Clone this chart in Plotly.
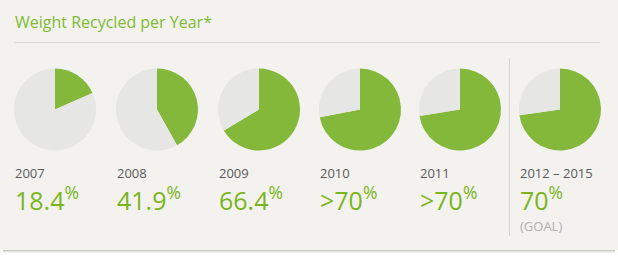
import plotly.graph_objects as go

# ---- data ----
years = ["2007", "2008", "2009", "2010", "2011", "2012 – 2015"]
pie_values = [18.4, 41.9, 66.4, 72.0, 72.5, 72.8]
value_labels = ["18.4", "41.9", "66.4", ">70", ">70", "70"]
title_text = "Weight Recycled per Year*"
goal_text = "(GOAL)"

# ---- layout constants ----
W, H = 618, 258
col_cx = [55, 157, 259, 360, 460, 560]
pie_cy = 109.5
pie_r = 41
GREEN = "#84b83a"
GREY_PIE = "#e6e6e4"
TEXT_GREEN = "#7ab51d"
TITLE_GREEN = "#80bb35"
CARD = "#f3f2ee"
FONT = "Open Sans"


def fx(px):
    return px / W


def fy(py):
    return 1 - py / H


fig = go.Figure()

for i, v in enumerate(pie_values):
    cx = col_cx[i]
    fig.add_trace(go.Pie(
        values=[v, 100 - v],
        labels=["Recycled", "Other"],
        marker=dict(colors=[GREEN, GREY_PIE], line=dict(width=0)),
        sort=False,
        direction="clockwise",
        rotation=0,
        textinfo="none",
        hoverinfo="skip",
        showlegend=False,
        domain=dict(x=[fx(cx - pie_r), fx(cx + pie_r)],
                    y=[fy(pie_cy + pie_r), fy(pie_cy - pie_r)]),
    ))

shapes = []
# card shadow layers (below the card's bottom edge)
for off, alpha in [(3, 0.05), (2, 0.07), (1, 0.10)]:
    shapes.append(dict(type="rect", xref="paper", yref="paper", layer="below",
                       x0=fx(3), x1=fx(615), y0=fy(250 + off), y1=fy(240),
                       fillcolor=f"rgba(0,0,0,{alpha})", line=dict(width=0)))
shapes.append(dict(type="rect", xref="paper", yref="paper", layer="below",
                   x0=fx(0), x1=fx(618), y0=fy(250), y1=fy(0),
                   fillcolor=CARD, line=dict(width=0)))
# title rule
shapes.append(dict(type="line", xref="paper", yref="paper",
                   x0=fx(14), x1=fx(600), y0=fy(42.5), y1=fy(42.5),
                   line=dict(color="#d6d6d2", width=1)))
# goal divider
shapes.append(dict(type="line", xref="paper", yref="paper",
                   x0=fx(509.5), x1=fx(509.5), y0=fy(58), y1=fy(236),
                   line=dict(color="#d6d6d2", width=1)))

annotations = [dict(text=title_text, xref="paper", yref="paper",
                    x=fx(13), y=fy(22), xanchor="left", yanchor="middle",
                    showarrow=False, font=dict(family=FONT, size=16, color=TITLE_GREEN))]

for i, yr in enumerate(years):
    lx = col_cx[i] - 42
    annotations.append(dict(text=yr, xref="paper", yref="paper",
                            x=fx(lx), y=fy(172.5), xanchor="left", yanchor="middle",
                            showarrow=False, font=dict(family=FONT, size=13, color="#5a5a5a")))
    annotations.append(dict(text=value_labels[i] + "<sup>%</sup>", xref="paper", yref="paper",
                            x=fx(lx), y=fy(198), xanchor="left", yanchor="middle",
                            showarrow=False, font=dict(family=FONT, size=25, color=TEXT_GREEN)))

annotations.append(dict(text=goal_text, xref="paper", yref="paper",
                        x=fx(col_cx[5] - 42), y=fy(226), xanchor="left", yanchor="middle",
                        showarrow=False, font=dict(family=FONT, size=13, color="#b0b0b0")))

fig.update_layout(
    width=W, height=H,
    margin=dict(l=0, r=0, t=0, b=0),
    paper_bgcolor="#ffffff",
    plot_bgcolor="#ffffff",
    shapes=shapes,
    annotations=annotations,
)

fig.write_html("out.html")
